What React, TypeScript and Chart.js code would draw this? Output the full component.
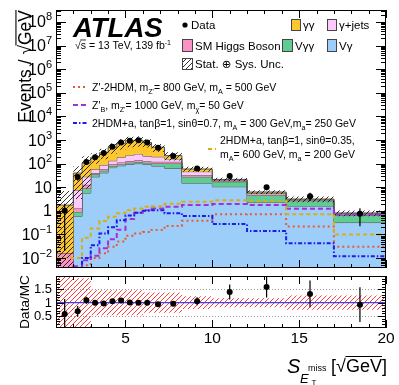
import React, { useEffect, useRef } from 'react';
import { Chart, registerables } from 'chart.js';

Chart.register(...registerables);

const FONT = "'Liberation Sans', Arial, 'DejaVu Sans', sans-serif";

// Bin edges of S_{E_T^miss} [sqrt(GeV)]
const binEdges = [1, 2, 2.5, 3, 3.5, 4, 4.5, 5, 5.5, 6, 6.5, 7.25, 8.25, 10, 12, 14.25, 17, 20];

// Backgrounds (Events / sqrt(GeV)), stacked bottom to top
const bkgVGamma = [0, 0.59, 5.6, 27.5, 40.7, 67.6, 81, 93, 100, 93, 79, 63, 14.8, 10.5, 2.3, 1.58, 0.32];
const bkgVGammaGamma = [0, 0.31, 3.3, 8, 9.4, 11.8, 14, 16, 17.5, 16, 22, 39, 12.7, 6.5, 2.4, 1.1, 0.34];
const bkgSMHiggs = [0.016, 0.4, 3.7, 4.3, 7.4, 13.9, 17, 19, 20.5, 16.5, 19, 18, 5.6, 1.6, 0.8, 0.2, 0.06];
const bkgGammaJets = [0, 6.3, 15.4, 17.7, 29.6, 38.5, 74, 100, 119, 83, 74, 38, 12.6, 1.4, 0.4, 0.14, 0.06];
const bkgGammaGamma = [1.73, 32.4, 79, 128.5, 201, 358, 538, 704, 720, 567, 301, 60, 13.2, 1.4, 0.4, 0.14, 0.03];

// Data
const dataValues = [1.0, 27, 117, 186, 280, 515, 780, 940, 977, 776, 466, 210, 62, 30, 10, 4.2, 0.75];
const dataRelErr = [0.98, 0.3, 0.12, 0.06, 0.05, 0.04, 0.035, 0.03, 0.03, 0.035, 0.045, 0.07, 0.14, 0.2, 0.25, 0.38, 0.7];
// Relative background uncertainty (stat + sys)
const bkgRelUnc = [3.0, 0.92, 0.92, 0.47, 0.47, 0.47, 0.47, 0.47, 0.47, 0.38, 0.38, 0.38, 0.24, 0.17, 0.17, 0.27, 0.27];

// Signals
const sigZp2HDM = [0.0001, 0.001, 0.005, 0.01, 0.016, 0.03, 0.05, 0.089, 0.11, 0.126, 0.155, 0.23, 0.38, 0.71, 0.72, 0.22, 0.03];
const sigZpB = [0.0001, 0.0045, 0.008, 0.0126, 0.026, 0.063, 0.16, 0.45, 0.83, 1.07, 1.26, 1.48, 1.78, 1.95, 1.78, 1.23, 0.71];
const sig2HDMa07 = [0.0001, 0.0025, 0.01, 0.035, 0.11, 0.2, 0.4, 0.63, 0.83, 1.0, 1.07, 0.79, 0.6, 0.275, 0.14, 0.042, 0.012];
const sig2HDMa035 = [0.01, 0.01, 0.072, 0.18, 0.37, 0.56, 0.79, 1.07, 1.26, 1.48, 1.58, 2.0, 2.45, 2.8, 2.57, 0.72, 0.1];

// Axes
const xMin = 1;
const xMax = 20;
const yMin = 0.0038;
const yMax = 3.2e8;
const yLabelExps = [-2, -1, 0, 1, 2, 3, 4, 5, 6, 7, 8];
const xLabelValues = [5, 10, 15, 20];
const ratioMin = 0.05;
const ratioMax = 2;
const ratioLabelValues = [0.5, 1, 1.5];

const colVGamma = '#9dcdf9';
const colVGammaGamma = '#60cc94';
const colSMHiggs = '#fa92c6';
const colGammaJets = '#fdcbfb';
const colGammaGamma = '#fdc732';
const colZp2HDM = '#ea5a32';
const colZpB = '#a030d8';
const col2HDMa07 = '#1c1ceb';
const col2HDMa035 = '#d9ae14';

const dashZp2HDM = [2, 3];
const dashZpB = [5, 3];
const dash2HDMa07 = [4, 2, 1.5, 2];
const dash2HDMa035 = [4, 3];

type Part = { t: string; f?: number; dy?: number; it?: boolean; bold?: boolean; over?: boolean };

function fontOf(p: Part, size: number) {
  return `${p.it ? 'italic ' : ''}${p.bold ? 'bold ' : ''}${p.f ?? size}px ${FONT}`;
}
function richWidth(ctx: CanvasRenderingContext2D, parts: Part[], size: number) {
  let w = 0;
  for (const p of parts) {
    ctx.font = fontOf(p, size);
    w += ctx.measureText(p.t).width;
  }
  return w;
}
function drawRich(ctx: CanvasRenderingContext2D, parts: Part[], x: number, y: number, size: number, align: 'left' | 'right' | 'center' = 'left') {
  const w = richWidth(ctx, parts, size);
  let cx = align === 'left' ? x : align === 'right' ? x - w : x - w / 2;
  ctx.textAlign = 'left';
  ctx.textBaseline = 'alphabetic';
  for (const p of parts) {
    const fs = p.f ?? size;
    ctx.font = fontOf(p, size);
    const yy = y + (p.dy ?? 0);
    ctx.fillText(p.t, cx, yy);
    const pw = ctx.measureText(p.t).width;
    if (p.over) {
      ctx.beginPath();
      ctx.lineWidth = Math.max(0.8, fs / 16);
      ctx.moveTo(cx - 0.5, yy - fs * 0.86);
      ctx.lineTo(cx + pw, yy - fs * 0.86);
      ctx.stroke();
    }
    cx += pw;
  }
  return w;
}
const sub = (t: string, s: number): Part => ({ t, f: s * 0.68, dy: s * 0.28 });
const sup = (t: string, s: number): Part => ({ t, f: s * 0.68, dy: -s * 0.4 });

function hatch(color: string, size: number, lw: number, back: boolean) {
  const c = document.createElement('canvas');
  c.width = size;
  c.height = size;
  const g = c.getContext('2d')!;
  g.strokeStyle = color;
  g.lineWidth = lw;
  g.beginPath();
  if (!back) {
    g.moveTo(0, size); g.lineTo(size, 0);
    g.moveTo(-size, size); g.lineTo(size, -size);
    g.moveTo(0, 2 * size); g.lineTo(2 * size, 0);
  } else {
    g.moveTo(0, 0); g.lineTo(size, size);
    g.moveTo(-size, 0); g.lineTo(size, 2 * size);
    g.moveTo(0, -size); g.lineTo(2 * size, size);
  }
  g.stroke();
  return g.createPattern(c, 'repeat')!;
}

const centers = binEdges.slice(0, -1).map((e, i) => (e + binEdges[i + 1]) / 2);
const stepPts = (vals: number[], floor = 1e-6) =>
  binEdges.map((e, i) => ({ x: e, y: Math.max(vals[Math.min(i, vals.length - 1)], floor) }));

function cumulative(layers: number[][]) {
  const out: number[][] = [];
  let acc = layers[0].map(() => 0);
  for (const l of layers) {
    acc = acc.map((a, i) => a + l[i]);
    out.push(acc.slice());
  }
  return out;
}

export default function App() {
  const mainRef = useRef<HTMLCanvasElement>(null);
  const ratioRef = useRef<HTMLCanvasElement>(null);

  useEffect(() => {
    const layers = [bkgVGamma, bkgVGammaGamma, bkgSMHiggs, bkgGammaJets, bkgGammaGamma];
    const layerCols = [colVGamma, colVGammaGamma, colSMHiggs, colGammaJets, colGammaGamma];
    const cum = cumulative(layers);
    const total = cum[cum.length - 1];
    const bandLo = total.map((t, i) => t * (1 - bkgRelUnc[i]));
    const bandHi = total.map((t, i) => t * (1 + bkgRelUnc[i]));
    const ratio = dataValues.map((d, i) => d / total[i]);
    const rBandLo = bkgRelUnc.map((r) => Math.max(1 - r, 0));
    const rBandHi = bkgRelUnc.map((r) => 1 + r);

    const blackHatch = hatch('#000', 5, 0.8, false);
    const redHatch = hatch('#ff3a3a', 5, 1, false);

    const datasets: any[] = [];
    cum.forEach((c, i) => {
      datasets.push({
        data: stepPts(c),
        stepped: 'before',
        borderColor: '#555',
        borderWidth: 1,
        backgroundColor: layerCols[i],
        fill: i === 0 ? 'start' : '-1',
        pointRadius: 0,
      });
    });
    datasets.push({ data: stepPts(bandLo), stepped: 'before', borderWidth: 0, borderColor: 'rgba(0,0,0,0)', fill: false, pointRadius: 0 });
    datasets.push({ data: stepPts(bandHi), stepped: 'before', borderWidth: 0, borderColor: 'rgba(0,0,0,0)', backgroundColor: blackHatch, fill: '-1', pointRadius: 0 });
    const sigs: [number[], string, number[]][] = [
      [sigZp2HDM, colZp2HDM, dashZp2HDM],
      [sigZpB, colZpB, dashZpB],
      [sig2HDMa07, col2HDMa07, dash2HDMa07],
      [sig2HDMa035, col2HDMa035, dash2HDMa035],
    ];
    sigs.forEach(([v, col, dash]) => {
      datasets.push({ data: stepPts(v), stepped: 'before', borderColor: col, borderWidth: 2, borderDash: dash, fill: false, pointRadius: 0 });
    });
    datasets.push({
      data: centers.map((x, i) => ({ x, y: dataValues[i] })),
      showLine: false,
      pointRadius: 3,
      pointBackgroundColor: '#000',
      pointBorderWidth: 0,
      clip: false,
    });
    datasets.forEach((d, i) => (d.order = 100 - i));

    const mainDecor = {
      id: 'mainDecor',
      afterDatasetsDraw(chart: any) {
        const ctx = chart.ctx as CanvasRenderingContext2D;
        const xs = chart.scales.x, ys = chart.scales.y;
        const { left, right, top, bottom } = chart.chartArea;
        ctx.save();
        ctx.beginPath();
        ctx.rect(left, top, right - left, bottom - top);
        ctx.clip();
        ctx.strokeStyle = '#000';
        ctx.lineWidth = 1.2;
        ctx.beginPath();
        dataValues.forEach((v, i) => {
          const px = xs.getPixelForValue(centers[i]);
          ctx.moveTo(px, ys.getPixelForValue(v * (1 + dataRelErr[i])));
          ctx.lineTo(px, ys.getPixelForValue(Math.max(v * (1 - dataRelErr[i]), 1e-6)));
        });
        ctx.stroke();
        ctx.restore();
      },
      afterDraw(chart: any) {
        const ctx = chart.ctx as CanvasRenderingContext2D;
        const xs = chart.scales.x, ys = chart.scales.y;
        const { left, right, top, bottom } = chart.chartArea;
        ctx.save();
        ctx.strokeStyle = '#000';
        ctx.lineWidth = 1;
        ctx.setLineDash([]);
        ctx.strokeRect(left + 0.5, top + 0.5, right - left - 1, bottom - top - 1);
        ctx.beginPath();
        for (let v = xMin; v <= xMax; v++) {
          const px = Math.round(xs.getPixelForValue(v)) + 0.5;
          const len = v % 5 === 0 ? 8 : 4;
          ctx.moveTo(px, bottom); ctx.lineTo(px, bottom - len);
          ctx.moveTo(px, top); ctx.lineTo(px, top + len);
        }
        for (let e = -3; e <= 8; e++) {
          for (let k = 1; k <= 9; k++) {
            const v = k * Math.pow(10, e);
            if (v < yMin || v > yMax) continue;
            const py = Math.round(ys.getPixelForValue(v)) + 0.5;
            const len = k === 1 ? 10 : 5;
            ctx.moveTo(left, py); ctx.lineTo(left + len, py);
            ctx.moveTo(right, py); ctx.lineTo(right - len, py);
          }
        }
        ctx.stroke();

        ctx.fillStyle = '#000';
        for (const e of yLabelExps) {
          const py = ys.getPixelForValue(Math.pow(10, e));
          const parts: Part[] = e === 0 ? [{ t: '1' }] : e === 1 ? [{ t: '10' }] : [{ t: '10' }, { t: String(e).replace('-', '\u2212'), f: 11, dy: -7 }];
          drawRich(ctx, parts, 52, py + 5.5, 16, 'right');
        }

        // y-axis title
        ctx.save();
        ctx.translate(31, 10);
        ctx.rotate(-Math.PI / 2);
        drawRich(ctx, [{ t: 'Events / \u221A' }, { t: 'GeV', over: true }], 0, 0, 17.5, 'right');
        ctx.restore();

        // ATLAS label
        drawRich(ctx, [{ t: 'ATLAS', bold: true, it: true }], 73, 37, 27.5);
        drawRich(ctx, [{ t: '\u221A' }, { t: 's', over: true }, { t: ' = 13 TeV, 139 fb' }, sup('-1', 10.5)], 75, 49, 10.5);

        // legend
        const LS = 11.5;
        ctx.beginPath();
        ctx.arc(185, 25, 2.6, 0, Math.PI * 2);
        ctx.fill();
        drawRich(ctx, [{ t: 'Data' }], 191, 29, LS);
        const box = (x: number, y: number, col: string | CanvasPattern, w = 10, h = 12) => {
          ctx.fillStyle = '#fff';
          ctx.fillRect(x, y, w, h);
          ctx.fillStyle = col as any;
          ctx.fillRect(x, y, w, h);
          ctx.strokeStyle = '#444';
          ctx.lineWidth = 1;
          ctx.strokeRect(x + 0.5, y + 0.5, w - 1, h - 1);
          ctx.fillStyle = '#000';
        };
        box(291, 19, colGammaGamma);
        drawRich(ctx, [{ t: '\u03B3\u03B3' }], 303, 29, LS);
        box(327, 19, colGammaJets);
        drawRich(ctx, [{ t: '\u03B3+jets' }], 339, 29, LS);
        box(182, 39, colSMHiggs, 11, 13);
        drawRich(ctx, [{ t: 'SM Higgs Boson' }], 195, 50, LS);
        box(282, 39, colVGammaGamma, 11, 13);
        drawRich(ctx, [{ t: 'V\u03B3\u03B3' }], 295, 50, LS);
        box(327, 39, colVGamma, 10, 13);
        drawRich(ctx, [{ t: 'V\u03B3' }], 339, 50, LS);
        box(182, 58, blackHatch, 11, 12);
        drawRich(ctx, [{ t: 'Stat. \u2295 Sys. Unc.' }], 195, 68, LS);

        const SS = 10.5;
        const mark = (y: number, col: string, dash: number[], x0 = 73, x1 = 88) => {
          ctx.save();
          ctx.strokeStyle = col;
          ctx.lineWidth = 2;
          ctx.setLineDash(dash);
          ctx.beginPath();
          ctx.moveTo(x0, y); ctx.lineTo(x1, y);
          ctx.stroke();
          ctx.restore();
        };
        mark(87, colZp2HDM, dashZp2HDM);
        drawRich(ctx, [{ t: "Z'-2HDM, m" }, sub("Z'", SS), { t: '= 800 GeV, m' }, sub('A', SS), { t: ' = 500 GeV' }], 92, 91, SS);
        mark(105, colZpB, dashZpB);
        drawRich(ctx, [{ t: "Z'" }, sub('B', SS), { t: ', m' }, sub("Z'", SS), { t: '= 1000 GeV, m' }, sub('\u03C7', SS), { t: '= 50 GeV' }], 92, 109, SS);
        mark(123, col2HDMa07, dash2HDMa07);
        drawRich(ctx, [{ t: '2HDM+a, tan\u03B2=1, sin\u03B8=0.7, m' }, sub('A', SS), { t: ' = 300 GeV,m' }, sub('a', SS), { t: '= 250 GeV' }], 92, 127, SS);
        mark(149, col2HDMa035, dash2HDMa035, 208, 216);
        drawRich(ctx, [{ t: '2HDM+a, tan\u03B2=1, sin\u03B8=0.35,' }], 220, 144, SS);
        drawRich(ctx, [{ t: 'm' }, sub('A', SS), { t: '= 600 GeV, m' }, sub('a', SS), { t: ' = 200 GeV' }], 220, 158, SS);
        ctx.restore();
      },
    };

    const mainChart = new Chart(mainRef.current!, {
      type: 'line',
      data: { datasets },
      options: {
        animation: false,
        responsive: false,
        maintainAspectRatio: false,
        layout: { padding: { left: 56, right: 13, top: 10, bottom: 4 } },
        plugins: { legend: { display: false }, tooltip: { enabled: false } },
        scales: {
          x: { type: 'linear', min: xMin, max: xMax, display: false },
          y: { type: 'logarithmic', min: yMin, max: yMax, display: false },
        },
      } as any,
      plugins: [mainDecor],
    });

    // Ratio panel
    const rDatasets: any[] = [
      { data: stepPts(rBandLo, -1), stepped: 'before', borderWidth: 0, borderColor: 'rgba(0,0,0,0)', fill: false, pointRadius: 0 },
      { data: stepPts(rBandHi, -1), stepped: 'before', borderWidth: 0, borderColor: 'rgba(0,0,0,0)', backgroundColor: redHatch, fill: '-1', pointRadius: 0 },
      { data: [{ x: xMin, y: 1 }, { x: xMax, y: 1 }], borderColor: '#4040f0', borderWidth: 1.3, fill: false, pointRadius: 0 },
      {
        data: centers.map((x, i) => ({ x, y: ratio[i] })),
        showLine: false,
        pointRadius: 3,
        pointBackgroundColor: '#000',
        pointBorderWidth: 0,
        clip: false,
      },
    ];
    rDatasets.forEach((d, i) => (d.order = 100 - i));

    const ratioDecor = {
      id: 'ratioDecor',
      beforeDatasetsDraw(chart: any) {
        const ctx = chart.ctx as CanvasRenderingContext2D;
        const ys = chart.scales.y;
        const { left, right } = chart.chartArea;
        ctx.save();
        ctx.strokeStyle = '#999';
        ctx.lineWidth = 1;
        ctx.setLineDash([1, 2]);
        ctx.beginPath();
        for (const v of [0.5, 1.5]) {
          const py = Math.round(ys.getPixelForValue(v)) + 0.5;
          ctx.moveTo(left, py); ctx.lineTo(right, py);
        }
        ctx.stroke();
        ctx.restore();
      },
      afterDatasetsDraw(chart: any) {
        const ctx = chart.ctx as CanvasRenderingContext2D;
        const xs = chart.scales.x, ys = chart.scales.y;
        const { left, right, top, bottom } = chart.chartArea;
        ctx.save();
        ctx.beginPath();
        ctx.rect(left, top, right - left, bottom - top);
        ctx.clip();
        ctx.strokeStyle = '#000';
        ctx.lineWidth = 1.2;
        ctx.beginPath();
        ratio.forEach((r, i) => {
          const px = xs.getPixelForValue(centers[i]);
          ctx.moveTo(px, ys.getPixelForValue(r * (1 + dataRelErr[i])));
          ctx.lineTo(px, ys.getPixelForValue(r * (1 - dataRelErr[i])));
        });
        ctx.stroke();
        ctx.restore();
      },
      afterDraw(chart: any) {
        const ctx = chart.ctx as CanvasRenderingContext2D;
        const xs = chart.scales.x, ys = chart.scales.y;
        const { left, right, top, bottom } = chart.chartArea;
        ctx.save();
        ctx.strokeStyle = '#000';
        ctx.lineWidth = 1;
        ctx.strokeRect(left + 0.5, top + 0.5, right - left - 1, bottom - top - 1);
        ctx.beginPath();
        for (let v = xMin; v <= xMax; v++) {
          const px = Math.round(xs.getPixelForValue(v)) + 0.5;
          const len = v % 5 === 0 ? 8 : 4;
          ctx.moveTo(px, bottom); ctx.lineTo(px, bottom - len);
          ctx.moveTo(px, top); ctx.lineTo(px, top + len);
        }
        for (let k = 1; k <= 19; k++) {
          const v = k * 0.1;
          if (v < ratioMin || v > ratioMax) continue;
          const py = Math.round(ys.getPixelForValue(v)) + 0.5;
          const len = k % 5 === 0 ? 8 : 4;
          ctx.moveTo(left, py); ctx.lineTo(left + len, py);
          ctx.moveTo(right, py); ctx.lineTo(right - len, py);
        }
        ctx.stroke();

        ctx.fillStyle = '#000';
        ctx.font = `13px ${FONT}`;
        ctx.textAlign = 'right';
        ctx.textBaseline = 'middle';
        for (const v of ratioLabelValues) ctx.fillText(String(v), 52, ys.getPixelForValue(v) + 0.5);
        ctx.font = `15.5px ${FONT}`;
        ctx.textAlign = 'center';
        ctx.textBaseline = 'alphabetic';
        for (const v of xLabelValues) ctx.fillText(String(v), xs.getPixelForValue(v), 71);

        ctx.save();
        ctx.translate(29, 30);
        ctx.rotate(-Math.PI / 2);
        drawRich(ctx, [{ t: 'Data/MC' }], 0, 0, 13.5, 'center');
        ctx.restore();

        // x title
        drawRich(ctx, [{ t: 'S', it: true }], 287, 101, 20);
        drawRich(ctx, [{ t: 'E', it: true }], 300, 110.5, 13);
        drawRich(ctx, [{ t: 'T' }], 311.5, 113, 8);
        drawRich(ctx, [{ t: 'miss' }], 308, 99, 9);
        drawRich(ctx, [{ t: '[\u221A' }, { t: 'GeV', over: true }, { t: ']' }], 387, 100, 18, 'right');
        ctx.restore();
      },
    };

    const ratioChart = new Chart(ratioRef.current!, {
      type: 'line',
      data: { datasets: rDatasets },
      options: {
        animation: false,
        responsive: false,
        maintainAspectRatio: false,
        layout: { padding: { left: 56, right: 13, top: 4, bottom: 57 } },
        plugins: { legend: { display: false }, tooltip: { enabled: false } },
        scales: {
          x: { type: 'linear', min: xMin, max: xMax, display: false },
          y: { type: 'linear', min: ratioMin, max: ratioMax, display: false },
        },
      } as any,
      plugins: [ratioDecor],
    });

    return () => {
      mainChart.destroy();
      ratioChart.destroy();
    };
  }, []);

  return (
    <div style={{ position: 'absolute', left: 0, top: 0, width: 399, height: 385, background: '#fff' }}>
      <canvas ref={mainRef} width={399} height={272} style={{ position: 'absolute', left: 0, top: 0 }} />
      <canvas ref={ratioRef} width={399} height={113} style={{ position: 'absolute', left: 0, top: 272 }} />
    </div>
  );
}
